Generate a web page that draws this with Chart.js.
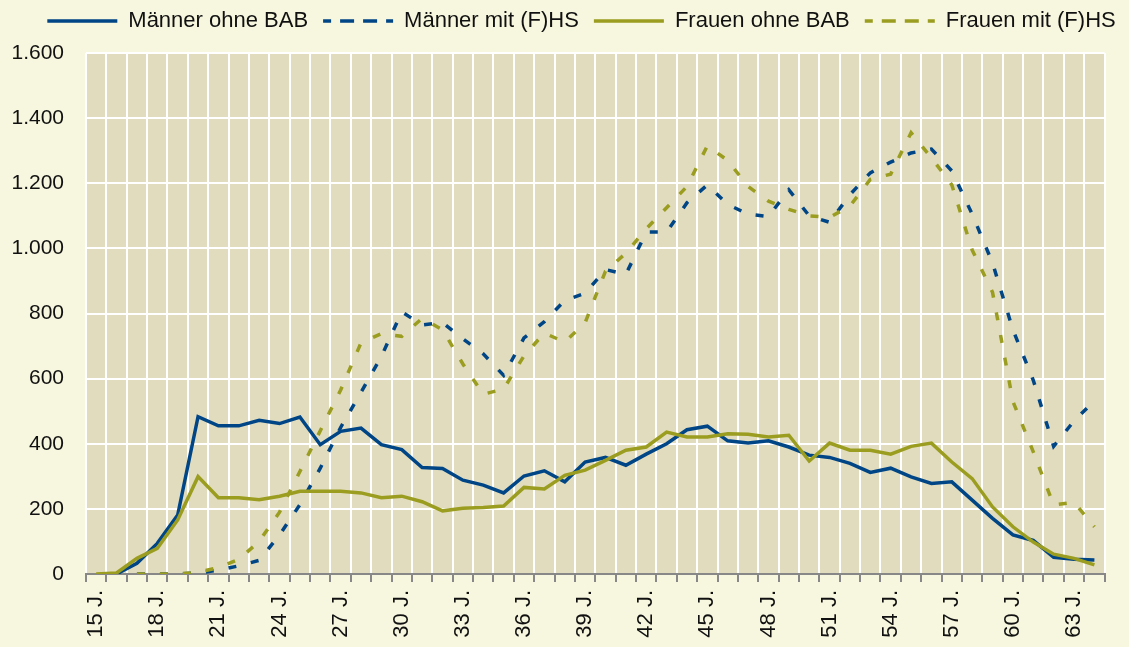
<!DOCTYPE html>
<html lang="de">
<head>
<meta charset="utf-8">
<title>Männer und Frauen nach Alter</title>
<script src="https://cdn.jsdelivr.net/npm/chart.js@4"></script>
<style>
    html, body { margin: 0; padding: 0; background: #f7f6de; }
    #wrap { width: 1129px; height: 647px; position: relative; }
</style>
</head>
<body>
<div id="wrap"><canvas id="myChart" width="1129" height="647"></canvas></div>
<script>
// Alter 15 J. bis 64 J.
var ages = ['15 J.', '16 J.', '17 J.', '18 J.', '19 J.', '20 J.', '21 J.', '22 J.', '23 J.', '24 J.',
    '25 J.', '26 J.', '27 J.', '28 J.', '29 J.', '30 J.', '31 J.', '32 J.', '33 J.', '34 J.',
    '35 J.', '36 J.', '37 J.', '38 J.', '39 J.', '40 J.', '41 J.', '42 J.', '43 J.', '44 J.',
    '45 J.', '46 J.', '47 J.', '48 J.', '49 J.', '50 J.', '51 J.', '52 J.', '53 J.', '54 J.',
    '55 J.', '56 J.', '57 J.', '58 J.', '59 J.', '60 J.', '61 J.', '62 J.', '63 J.', '64 J.'];

var seriesNames = ['Männer ohne BAB', 'Männer mit (F)HS', 'Frauen ohne BAB', 'Frauen mit (F)HS'];

var maennerOhneBab = [null, 0, 33, 94, 181, 483, 455, 455, 472, 462,
    482, 397, 438, 448, 397, 382, 327, 324, 288, 273,
    249, 301, 317, 283, 344, 358, 334, 368, 400, 443,
    454, 409, 402, 409, 390, 365, 358, 340, 312, 325,
    298, 278, 283, 227, 171, 120, 103, 51, 45, 43];

var maennerMitFhs = [null, null, 0, 0, 0, 3, 12, 25, 42, 120,
    213, 325, 450, 558, 668, 805, 765, 772, 722, 676,
    610, 725, 775, 840, 862, 935, 920, 1050, 1050, 1140,
    1195, 1135, 1105, 1098, 1180, 1100, 1080, 1165, 1232, 1265,
    1293, 1305, 1238, 1105, 955, 750, 595, 392, 470, 532];

var frauenOhneBab = [0, 3, 48, 79, 166, 299, 234, 234, 228, 239,
    254, 254, 254, 249, 234, 239, 222, 194, 202, 204,
    209, 266, 261, 303, 319, 349, 380, 390, 436, 421,
    421, 431, 429, 421, 426, 347, 402, 380, 380, 368,
    392, 402, 344, 293, 206, 145, 98, 61, 48, 28];

var frauenMitFhs = [null, null, 0, 0, 0, 5, 20, 45, 100, 190,
    315, 440, 565, 710, 738, 730, 785, 750, 645, 552,
    568, 670, 740, 712, 772, 930, 985, 1060, 1125, 1190,
    1315, 1270, 1190, 1145, 1120, 1100, 1095, 1130, 1212, 1228,
    1355, 1278, 1195, 995, 865, 530, 375, 212, 220, 145];

var yTicks = [0, 200, 400, 600, 800, 1000, 1200, 1400, 1600];

var sampleChartClass;

(function() {
    var blue = '#004686';
    var olive = '#9a9d1f';
    var plotBg = '#e2dcbe';
    var fontFamily = '"Liberation Sans", Arial, sans-serif';

    // Hintergrund nur im Diagrammbereich
    var plotBackground = {
        id: 'plotBackground',
        beforeDraw: function(chart) {
            var a = chart.chartArea;
            var ctx = chart.ctx;
            ctx.save();
            ctx.fillStyle = plotBg;
            ctx.fillRect(a.left, a.top, a.right - a.left, a.bottom - a.top);
            ctx.restore();
        }
    };

    // Legende verschieben, mehr Abstand zum Diagramm
    var legendGap = {
        id: 'legendGap',
        beforeInit: function(chart) {
            var fit = chart.legend.fit;
            chart.legend.fit = function() {
                fit.bind(chart.legend)();
                this.height += 6;
            };
        },
        afterLayout: function(chart) {
            var lg = chart.legend;
            lg.top -= 5;
            lg.bottom -= 5;
            lg.left += 27;
            lg.right += 27;
        }
    };

    sampleChartClass = {
        line: function(label, data, color, dash, order) {
            return {
                label: label,
                data: data,
                borderColor: color,
                backgroundColor: color,
                borderWidth: 3.5,
                borderDash: dash,
                pointRadius: 0,
                pointHoverRadius: 0,
                tension: 0,
                fill: false,
                spanGaps: false,
                order: order
            };
        },
        chartData: function(ctx) {
            new Chart(ctx, {
                type: 'line',
                data: {
                    labels: ages,
                    datasets: [
                        this.line(seriesNames[0], maennerOhneBab, blue, [], 4),
                        this.line(seriesNames[1], maennerMitFhs, blue, [8, 15], 3),
                        this.line(seriesNames[2], frauenOhneBab, olive, [], 2),
                        this.line(seriesNames[3], frauenMitFhs, olive, [8, 15], 1)
                    ]
                },
                options: {
                    responsive: false,
                    animation: false,
                    layout: { padding: { right: 20 } },
                    plugins: {
                        tooltip: { enabled: false },
                        legend: {
                            position: 'top',
                            labels: {
                                color: '#111',
                                font: { family: fontFamily, size: 22 },
                                boxWidth: 70,
                                boxHeight: 0,
                                padding: 15,
                                sort: function(a, b) { return a.datasetIndex - b.datasetIndex; }
                            }
                        }
                    },
                    scales: {
                        x: {
                            offset: true,
                            grid: {
                                offset: true,
                                color: '#ffffff',
                                lineWidth: 2,
                                tickColor: '#888888',
                                tickWidth: 2,
                                tickLength: 8
                            },
                            border: { color: '#888888', width: 2 },
                            ticks: {
                                autoSkip: false,
                                maxRotation: 90,
                                minRotation: 90,
                                padding: 8,
                                color: '#111',
                                font: { family: fontFamily, size: 22 },
                                callback: function(value, index) {
                                    return index % 3 === 0 ? this.getLabelForValue(value) : '';
                                }
                            },
                            afterFit: function(scale) { scale.height = 73; }
                        },
                        y: {
                            min: 0,
                            max: 1600,
                            afterBuildTicks: function(scale) {
                                scale.ticks = yTicks.map(function(v) { return { value: v }; });
                            },
                            grid: {
                                color: '#ffffff',
                                lineWidth: 2,
                                drawTicks: false
                            },
                            border: { display: false },
                            ticks: {
                                padding: 22,
                                color: '#111',
                                font: { family: fontFamily, size: 21 },
                                callback: function(value) {
                                    return String(value).replace(/\B(?=(\d{3})+(?!\d))/g, '.');
                                }
                            },
                            afterFit: function(scale) { scale.width = 86; }
                        }
                    }
                },
                plugins: [plotBackground, legendGap]
            });
        }
    };

    sampleChartClass.chartData(document.getElementById('myChart').getContext('2d'));
})();
</script>
</body>
</html>
